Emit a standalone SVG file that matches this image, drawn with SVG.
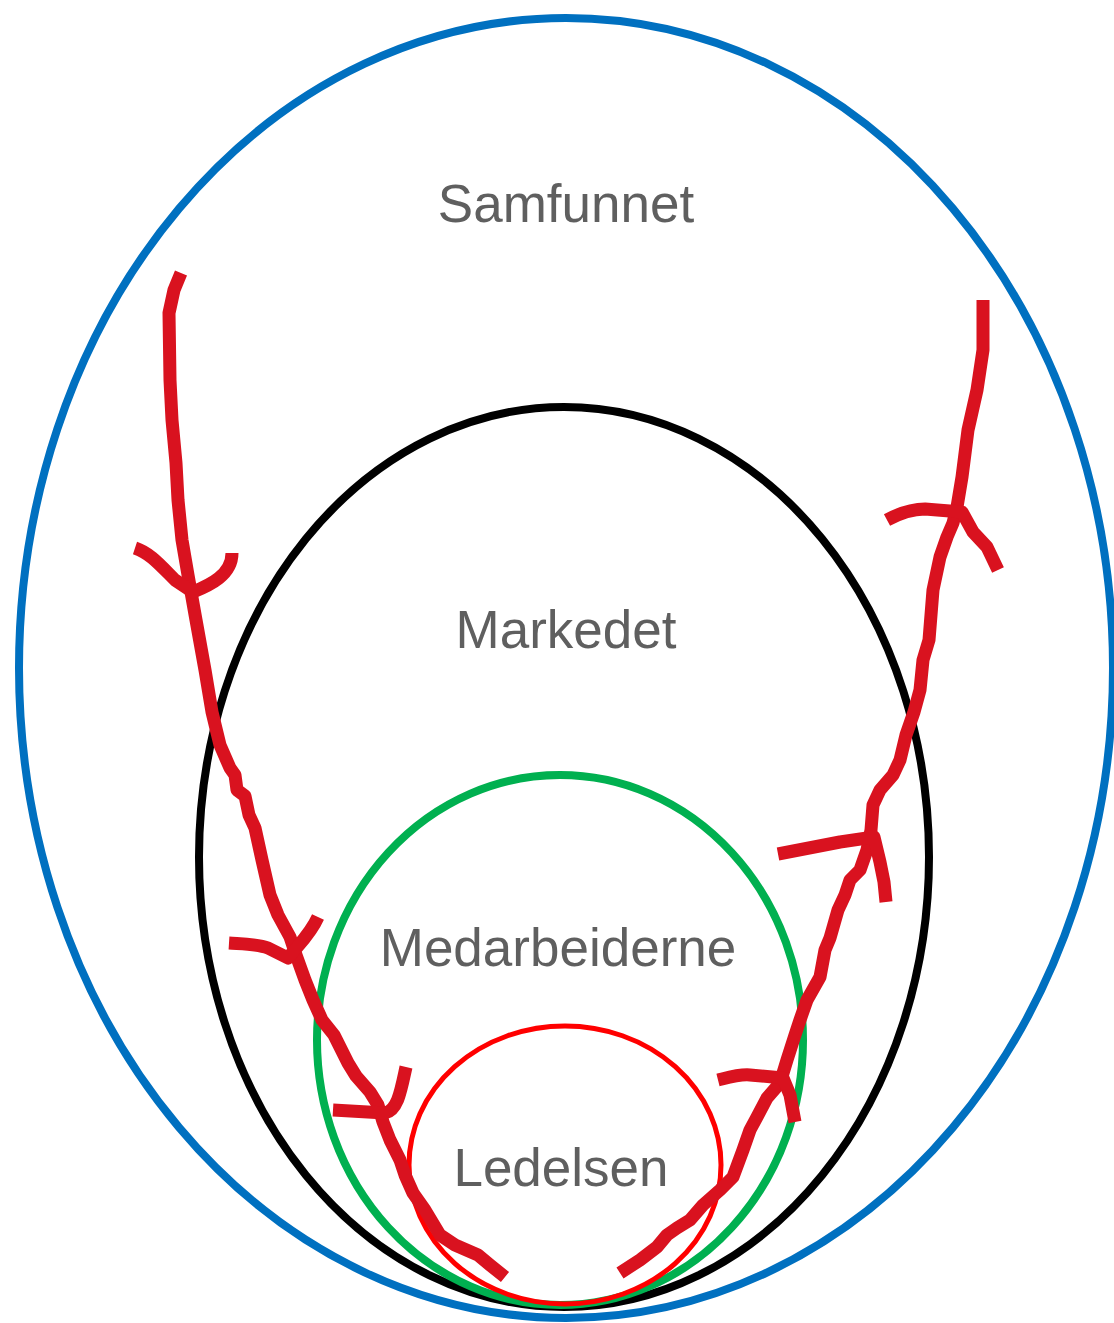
<svg xmlns="http://www.w3.org/2000/svg" width="1114" height="1323" viewBox="0 0 1114 1323">
<style>
.ring{fill:none}
.lbl{font-family:"Liberation Sans",Arial,sans-serif;font-size:53px;fill:#5f5f5f;text-anchor:middle}
.flow{fill:none;stroke:#D9121F;stroke-width:13;stroke-linejoin:round}
</style>
<rect width="1114" height="1323" fill="#fff"/>
<g id="samfunnet">
<ellipse class="ring" cx="566" cy="668" rx="547" ry="650" stroke="#0070C0" stroke-width="8"/>
<text class="lbl" x="566" y="222">Samfunnet</text>
</g>
<g id="markedet">
<ellipse class="ring" cx="564" cy="857" rx="365" ry="450" stroke="#000" stroke-width="8"/>
<text class="lbl" x="566" y="648">Markedet</text>
</g>
<g id="medarbeiderne">
<ellipse class="ring" cx="560" cy="1040" rx="243" ry="265" stroke="#00B050" stroke-width="8"/>
<text class="lbl" x="558" y="966">Medarbeiderne</text>
</g>
<g id="ledelsen">
<ellipse class="ring" cx="565" cy="1165" rx="156" ry="139" stroke="#FF0000" stroke-width="5"/>
<text class="lbl" x="561" y="1186">Ledelsen</text>
</g>
<g id="connectors">
<path class="flow" d="M181,273 L174,290 L169,313 L170,380 L172,420 L176,463 L178,500 L182,540 L188,575 L196,620 L205,670 L212,712 L220,745 L230,768 L235,775 L237,790 L245,796 L249,815 L255,828 L262,860 L270,895 L278,915 L290,937 L296,955 L305,980 L313,1000 L322,1020 L334,1035 L348,1063 L356,1076 L370,1092 L378,1105 L383,1122 L390,1140 L400,1160 L405,1175 L413,1193 L425,1210 L440,1235 L455,1245 L478,1255 L490,1265 L505,1277"/>
<path class="flow" d="M135,548 C150,553 160,565 175,580 L193,592 C210,585 232,575 232,553"/>
<path class="flow" d="M229,943 C245,944 258,944 268,948 L288,958 C298,945 310,935 318,917"/>
<path class="flow" d="M333,1110 L385,1113 C398,1110 401,1090 406,1067"/>
<path class="flow" d="M983,300 L983,350 L977,390 L968,430 L962,477 L957,507 L953,523 L947,537 L940,557 L933,590 L929,640 L923,660 L920,690 L914,712 L906,735 L900,760 L893,775 L880,790 L873,805 L871,830 L867,850 L860,870 L850,880 L845,895 L838,910 L830,938 L825,950 L820,977 L807,1000 L800,1020 L795,1035 L787,1060 L780,1083 L767,1098 L757,1117 L750,1130 L743,1150 L733,1177 L720,1190 L703,1205 L690,1220 L677,1228 L667,1235 L657,1247 L640,1260 L620,1273"/>
<path class="flow" d="M887,520 C900,513 912,509 925,509 L962,512 L973,532 L987,547 L998,570"/>
<path class="flow" d="M778,854 L840,842 L874,837 L880,862 L884,882 L886,902"/>
<path class="flow" d="M718,1080 C730,1077 740,1074 750,1075 L783,1078 L790,1095 L795,1122"/>
</g>
</svg>
